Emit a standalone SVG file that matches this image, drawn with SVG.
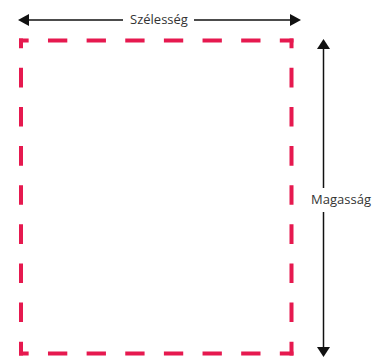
<svg xmlns="http://www.w3.org/2000/svg" width="374" height="358" viewBox="0 0 374 358">
  <style>
    .edge { stroke: #E6194F; stroke-width: 4; fill: none; }
    .dim { stroke: #111; stroke-width: 1.5; fill: none; }
    .head { fill: #111; }
    .lbl { font-family: "Open Sans", "Noto Sans", sans-serif; font-size: 13px; fill: #333; }
  </style>
  <rect width="374" height="358" fill="#fff"/>
  <g id="frame">
    <line class="edge" x1="19" y1="40.5" x2="293.5" y2="40.5" stroke-dasharray="19.32 19.32" stroke-dashoffset="9.66" transform="translate(0,0)"/>
    <line class="edge" x1="19" y1="353.5" x2="293.5" y2="353.5" stroke-dasharray="19.32 19.32" stroke-dashoffset="9.66"/>
    <line class="edge" x1="21" y1="38.5" x2="21" y2="355.5" stroke-dasharray="19.56 19.56" stroke-dashoffset="9.78"/>
    <line class="edge" x1="291.5" y1="38.5" x2="291.5" y2="355.5" stroke-dasharray="19.56 19.56" stroke-dashoffset="9.78"/>
  </g>
  <g id="connectors">
    <line class="dim" x1="27" y1="20" x2="123" y2="20"/>
    <line class="dim" x1="194" y1="20" x2="291" y2="20"/>
    <polygon class="head" points="18,20 29,14 29,26"/>
    <polygon class="head" points="301,20 290,14 290,26"/>
    <line class="dim" x1="323.5" y1="48" x2="323.5" y2="188"/>
    <line class="dim" x1="323.5" y1="212" x2="323.5" y2="347"/>
    <polygon class="head" points="323.5,39 317,49 330,49"/>
    <polygon class="head" points="323.5,357 317,347 330,347"/>
  </g>
  <g id="width-label">
    <text class="lbl" x="159" y="24" text-anchor="middle">Szélesség</text>
  </g>
  <g id="height-label">
    <text class="lbl" x="341" y="204" text-anchor="middle">Magasság</text>
  </g>
</svg>
